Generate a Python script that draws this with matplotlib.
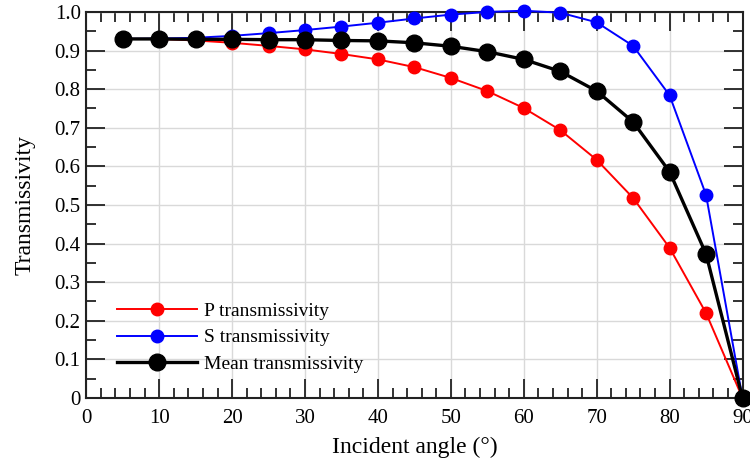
import numpy as np
import matplotlib.pyplot as plt
from matplotlib.ticker import MultipleLocator

plt.rcParams['font.family'] = ['Liberation Serif', 'DejaVu Serif']

# Dados
angle = [5, 10, 15, 20, 25, 30, 35, 40, 45, 50, 55, 60, 65, 70, 75, 80, 85, 90]
p_trans = [0.930, 0.930, 0.926, 0.920, 0.912, 0.903, 0.891, 0.877, 0.857, 0.829,
           0.795, 0.751, 0.694, 0.617, 0.518, 0.389, 0.220, 0.0]
s_trans = [0.930, 0.931, 0.933, 0.938, 0.945, 0.953, 0.962, 0.972, 0.983, 0.993,
           1.000, 1.003, 0.998, 0.973, 0.912, 0.784, 0.526, 0.0]
mean_trans = [0.930, 0.930, 0.929, 0.929, 0.928, 0.928, 0.926, 0.925, 0.920, 0.911,
              0.897, 0.877, 0.846, 0.795, 0.715, 0.586, 0.373, 0.0]

fig, ax = plt.subplots(figsize=(7.5, 4.58), dpi=100)
fig.subplots_adjust(left=0.115, right=0.99, top=0.974, bottom=0.131)

ax.plot(angle, p_trans, 'o-', color='red', lw=1.4, ms=9, label='P transmissivity', clip_on=False, zorder=3)
ax.plot(angle, s_trans, 'o-', color='blue', lw=1.4, ms=9, label='S transmissivity', clip_on=False, zorder=3)
ax.plot(angle, mean_trans, 'o-', color='black', lw=2.4, ms=12, label='Mean transmissivity', clip_on=False, zorder=4)

ax.set_xlim(0, 90)
ax.set_ylim(0, 1.0)
ax.xaxis.set_major_locator(MultipleLocator(10))
ax.xaxis.set_minor_locator(MultipleLocator(2))
ax.yaxis.set_major_locator(MultipleLocator(0.1))
ax.yaxis.set_minor_locator(MultipleLocator(0.05))
ax.yaxis.set_major_formatter(plt.FuncFormatter(lambda v, p: '0' if v == 0 else f'{v:.1f}'))

ax.tick_params(which='both', direction='in', top=True, right=True, labelsize=15, width=1.3, color='#222222')
ax.tick_params(which='major', length=14)
ax.tick_params(which='minor', length=7)
ax.tick_params(axis='y', which='major', pad=4)
ax.tick_params(axis='x', which='major', pad=8)
for s in ax.spines.values():
    s.set_linewidth(1.5)
    s.set_color('#222222')

ax.grid(True, which='major', color='#d9d9d9', lw=1)
ax.set_axisbelow(True)

ax.set_xlabel('Incident angle (°)', fontsize=17, labelpad=6)
ax.set_ylabel('Transmissivity', fontsize=17, labelpad=14)
ax.legend(loc='lower left', bbox_to_anchor=(0.02, 0.02), frameon=False, fontsize=14,
          handlelength=4.1, handletextpad=0.4, labelspacing=0.45)

plt.savefig('out.png')
